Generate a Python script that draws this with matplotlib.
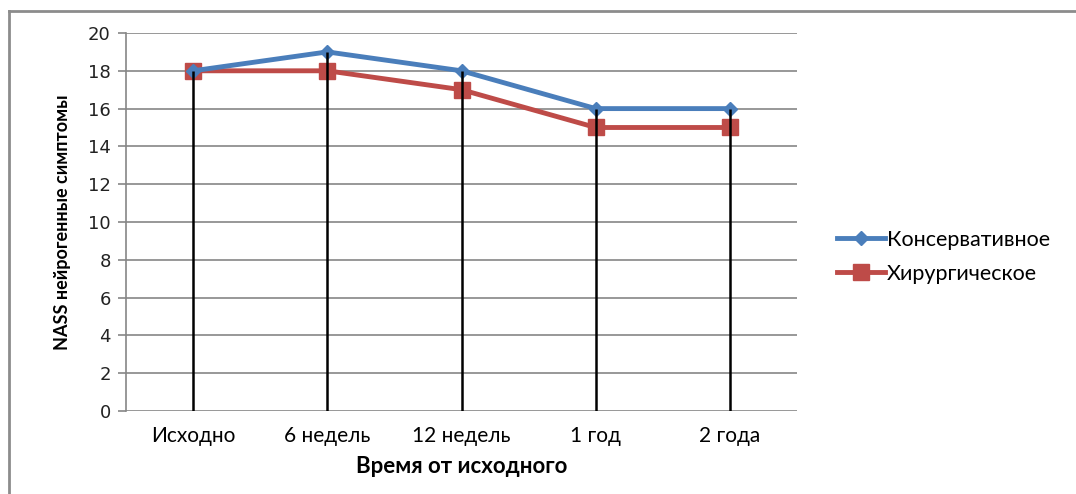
import matplotlib
matplotlib.use("Agg")
from matplotlib import pyplot as plt
from matplotlib.lines import Line2D

categories = ['Исходно', '6 недель', '12 недель', '1 год', '2 года']
konserv = [18, 19, 18, 16, 16]
hirurg = [18, 18, 17, 15, 15]
yticks = [0, 2, 4, 6, 8, 10, 12, 14, 16, 18, 20]

W, H = 1076, 494
fig = plt.figure(figsize=(W/100, H/100), dpi=100)
ax = fig.add_axes([126/W, 1-411/H, (797-126)/W, (411-33)/H])

x = list(range(len(categories)))
blue = '#4a7ebb'
red = '#be4b48'

# grid
for t in yticks:
    ax.axhline(t, color='#868686', lw=1.2, zorder=1)

# drop lines
tops = [max(a, b) for a, b in zip(konserv, hirurg)]
ax.vlines(x, 0, tops, color='black', lw=1.8, zorder=4)

ax.plot(x, hirurg, color=red, lw=3.5, marker='s', ms=12, zorder=3, label='Хирургическое')
ax.plot(x, konserv, color=blue, lw=3.5, marker='D', ms=7, zorder=3, label='Консервативное')

ax.set_xlim(-0.5, 4.5)
ax.set_ylim(0, 20)
ax.set_yticks(yticks)
ax.set_yticklabels([str(t) for t in yticks], fontsize=13, family='DejaVu Sans', color='#222222')
ax.set_xticks(x)
ax.set_xticklabels(categories, fontsize=15, family='Lato')
ax.tick_params(axis='x', length=0, pad=11)
ax.tick_params(axis='y', length=6, color='#868686', width=1.2, pad=5)
for s in ['top', 'right', 'bottom']:
    ax.spines[s].set_visible(False)
ax.spines['left'].set_color('#868686')
ax.spines['left'].set_linewidth(1.2)

ax.set_xlabel('Время от исходного', fontsize=16, family='Lato', fontweight='bold', labelpad=7)
ax.set_ylabel('NASS нейрогенные симптомы', fontsize=13, family='Lato', fontweight='bold', labelpad=12)

h = [Line2D([], [], color=blue, lw=3.5, marker='D', ms=7),
     Line2D([], [], color=red, lw=3.5, marker='s', ms=12)]
fig.legend(h, ['Консервативное', 'Хирургическое'], loc='center left',
           bbox_to_anchor=(818/W, 1-257/H), frameon=False, prop={'family': 'Lato', 'size': 15.5},
           handlelength=2.2, handletextpad=0.1, labelspacing=0.65)

# outer frame (top and left only visible)
fig.add_artist(Line2D([9/W, 1], [1-11/H, 1-11/H], color='#8c8c8c', lw=2, transform=fig.transFigure))
fig.add_artist(Line2D([9/W, 9/W], [1-11/H, 0], color='#8c8c8c', lw=2, transform=fig.transFigure))

fig.savefig('out.png', dpi=100)
